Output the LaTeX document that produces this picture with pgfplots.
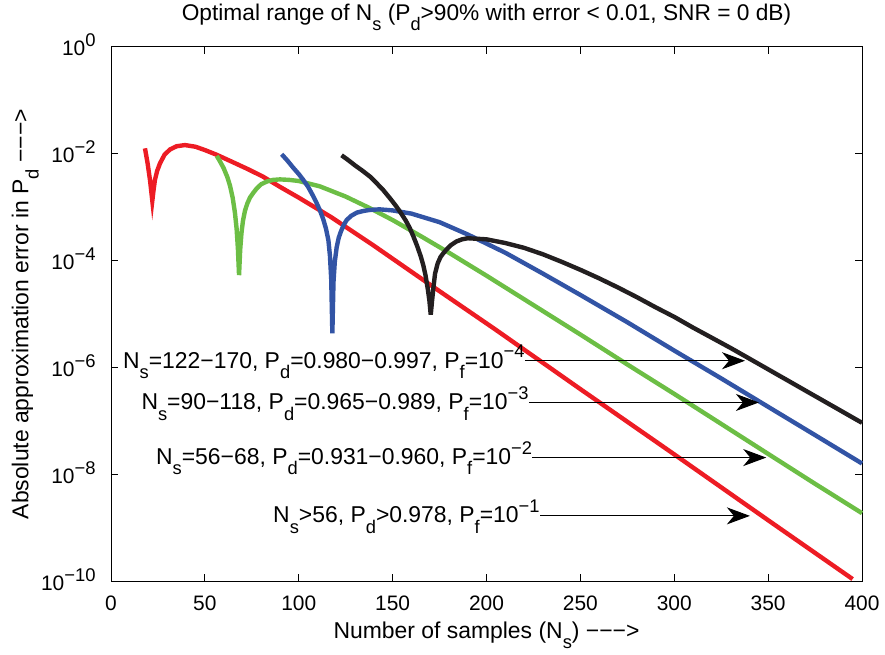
\documentclass[border=0pt]{standalone}
\usepackage{fontspec}
\setmainfont{Liberation Sans}
\usepackage{graphicx}
\usepackage{pgfplots}
\pgfplotsset{compat=1.18}
\usetikzlibrary{arrows.meta}
\definecolor{mred}{RGB}{237,28,36}
\definecolor{mgreen}{RGB}{108,190,69}
\definecolor{mblue}{RGB}{50,84,165}
\definecolor{mblack}{RGB}{35,31,32}
\newcommand{\subs}[1]{\raisebox{-0.45em}{\scalebox{0.8}{#1}}}
\newcommand{\sups}[1]{\raisebox{0.45em}{\scalebox{0.8}{#1}}}
\newcommand{\tsup}[1]{\raisebox{0.43em}{\scalebox{0.88}{#1}}}
\begin{document}
\begin{tikzpicture}
\useasboundingbox (-55.5bp,-36.65bp) rectangle (387bp,290.85bp);
\begin{axis}[
  at={(0,0)}, anchor=south west,
  scale only axis, width=375.5bp, height=267.5bp,
  xmin=0, xmax=400, ymode=log, ymin=1e-10, ymax=1,
  xtick={0,50,...,400},
  ytick={1e-10,1e-8,1e-6,1e-4,1e-2,1},
  yticklabels={10\tsup{−10},10\tsup{−8},10\tsup{−6},10\tsup{−4},10\tsup{−2},10\tsup{0}},
  xminorticks=false, yminorticks=false,
  tick align=inside, tick pos=both,
  major tick length=3.7bp,
  every tick/.style={black, line width=0.5bp},
  axis line style={black, line width=0.5bp},
  font=\fontsize{10.5}{12}\selectfont,
  /pgf/number format/assume math mode=true,
  xticklabel style={anchor=base, yshift=-14.6bp, inner sep=0pt},
  yticklabel style={anchor=base east, inner sep=0pt, xshift=-7.5bp, yshift=-4.5bp},
  title={Optimal range of N\subs{s} (P\subs{d}>90\% with error < 0.01, SNR = 0 dB)},
  title style={at={(axis description cs:0.5,1.027)}, anchor=base, inner sep=0pt, font=\fontsize{11.4}{13}\selectfont},
  xlabel={Number of samples (N\subs{s}) −−−>},
  xlabel style={at={(axis description cs:0.5,-0.1058)}, anchor=base, inner sep=0pt, font=\fontsize{11.5}{13}\selectfont},
  ylabel={Absolute approximation error in P\subs{d} −−−>},
  ylabel style={at={(axis description cs:-0.11,0.5)}, anchor=base, inner sep=0pt, font=\fontsize{11.5}{13}\selectfont},
  clip=false,
]
\addplot[mred, line width=2.2bp] coordinates {(18.1,1.26e-2)(19.5,6.61e-3)(20.8,3.16e-3)(22.0,1.32e-3)(22.6,2.00e-3)(23.4,3.24e-3)(24.6,4.79e-3)(26.1,6.61e-3)(28.5,9.55e-3)(31.4,1.20e-2)(35,1.38e-2)(39.4,1.45e-2)(45,1.35e-2)(50,1.17e-2)(56.3,9.55e-3)(65,6.92e-3)(73,5.13e-3)(81,3.72e-3)(90,2.40e-3)(100,1.51e-3)(117,6.61e-4)(140,1.91e-4)(170,3.55e-5)(204.5,5.25e-6)(250,3.98e-7)(300,2.40e-8)(350,1.41e-9)(395,1.12e-10)};
\addplot[mgreen, line width=2.2bp] coordinates {(56.3,0.912e-2)(58,0.724e-2)(60,0.537e-2)(62,0.363e-2)(63.4,0.251e-2)(64.8,0.151e-2)(66,0.794e-3)(66.9,0.398e-3)(67.6,0.166e-3)(68.2,0.537e-4)(68.8,0.158e-3)(69.5,0.331e-3)(70.3,0.562e-3)(71.4,0.871e-3)(72.6,0.117e-2)(74,0.151e-2)(75.8,0.186e-2)(77.6,0.224e-2)(80,0.269e-2)(83,0.302e-2)(86.4,0.324e-2)(90,0.331e-2)(95,0.324e-2)(100,0.309e-2)(111.3,0.245e-2)(125,0.158e-2)(138,0.955e-3)(150,0.575e-3)(165,0.288e-3)(180,0.141e-3)(200,0.525e-4)(225,0.148e-4)(250,0.417e-5)(275,0.115e-5)(300,0.324e-6)(325,0.891e-7)(350,0.245e-7)(375,0.676e-8)(400,0.191e-8)};
\addplot[mblue, line width=2.2bp] coordinates {(90.9,0.977e-2)(94,0.741e-2)(97,0.550e-2)(100,0.417e-2)(102.4,0.324e-2)(105,0.240e-2)(107.5,0.166e-2)(109.5,0.120e-2)(111.3,0.871e-3)(113,0.603e-3)(114.5,0.398e-3)(115.8,0.240e-3)(116.6,0.126e-3)(117.3,0.447e-4)(117.9,0.437e-5)(118.5,0.398e-4)(119.2,0.955e-4)(120.2,0.178e-3)(121.3,0.269e-3)(122.5,0.355e-3)(124,0.468e-3)(125.5,0.575e-3)(128,0.692e-3)(131,0.794e-3)(134.5,0.851e-3)(138,0.891e-3)(143,0.912e-3)(150,0.871e-3)(160,0.759e-3)(175,0.525e-3)(190,0.309e-3)(210,0.141e-3)(230,0.575e-4)(250,0.229e-4)(275,0.708e-5)(300,0.209e-5)(325,0.631e-6)(350,0.186e-6)(375,0.550e-7)(400,0.162e-7)};
\addplot[mblack, line width=2.2bp] coordinates {(122.8,0.933e-2)(126,0.776e-2)(130,0.603e-2)(134,0.479e-2)(138,0.372e-2)(142,0.269e-2)(145,0.209e-2)(149,0.141e-2)(152.1,0.102e-2)(155,0.724e-3)(157,0.562e-3)(159,0.417e-3)(161,0.288e-3)(163,0.191e-3)(165,0.120e-3)(166.3,0.832e-4)(167.5,0.537e-4)(168.7,0.302e-4)(169.6,0.178e-4)(170.3,0.977e-5)(171.0,0.178e-4)(171.8,0.331e-4)(172.6,0.575e-4)(174,0.891e-4)(175.5,0.117e-3)(177,0.138e-3)(178.7,0.162e-3)(181,0.195e-3)(184,0.229e-3)(187,0.251e-3)(190,0.263e-3)(195,0.257e-3)(200,0.251e-3)(210,0.214e-3)(220,0.174e-3)(230,0.132e-3)(240,0.955e-4)(250,0.676e-4)(260,0.468e-4)(270,0.316e-4)(280,0.209e-4)(290,0.135e-4)(300,0.891e-5)(310,0.562e-5)(320,0.363e-5)(330,0.234e-5)(340,0.148e-5)(350,0.933e-6)(362.5,0.525e-6)(375,0.295e-6)(387.5,0.166e-6)(400,0.933e-7)};
\draw[-{Stealth[length=11.5bp,width=8.5bp,inset=3.5bp]}, line width=0.5bp] (axis cs:220.5,1.35e-6) -- (axis cs:337.7,1.35e-6);
\draw[-{Stealth[length=11.5bp,width=8.5bp,inset=3.5bp]}, line width=0.5bp] (axis cs:222.6,2.24e-7) -- (axis cs:345.1,2.24e-7);
\draw[-{Stealth[length=11.5bp,width=8.5bp,inset=3.5bp]}, line width=0.5bp] (axis cs:224.5,2.09e-8) -- (axis cs:349,2.09e-8);
\draw[-{Stealth[length=11.5bp,width=8.5bp,inset=3.5bp]}, line width=0.5bp] (axis cs:228.5,1.70e-9) -- (axis cs:340.3,1.70e-9);
\node[anchor=base east, inner sep=0pt, font=\fontsize{11.5}{13}\selectfont] at (axis cs:220.5,9.77e-7) {N\subs{s}=122−170, P\subs{d}=0.980−0.997, P\subs{f}=10\sups{−4}};
\node[anchor=base east, inner sep=0pt, font=\fontsize{11.5}{13}\selectfont] at (axis cs:222.6,1.62e-7) {N\subs{s}=90−118, P\subs{d}=0.965−0.989, P\subs{f}=10\sups{−3}};
\node[anchor=base east, inner sep=0pt, font=\fontsize{11.5}{13}\selectfont] at (axis cs:224.5,1.55e-8) {N\subs{s}=56−68, P\subs{d}=0.931−0.960, P\subs{f}=10\sups{−2}};
\node[anchor=base east, inner sep=0pt, font=\fontsize{11.5}{13}\selectfont] at (axis cs:228.5,1.26e-9) {N\subs{s}>56, P\subs{d}>0.978, P\subs{f}=10\sups{−1}};
\end{axis}
\end{tikzpicture}
\end{document}
